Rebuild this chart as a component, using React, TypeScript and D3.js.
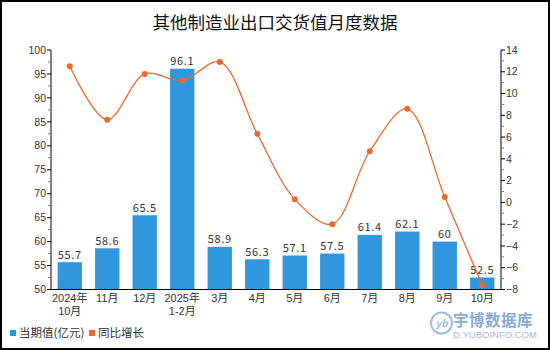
import React from "react";
import * as d3 from "d3";

const categories = ["2024年\n10月", "11月", "12月", "2025年\n1-2月", "3月", "4月", "5月", "6月", "7月", "8月", "9月", "10月"];
const values = [55.7, 58.6, 65.5, 96.1, 58.9, 56.3, 57.1, 57.5, 61.4, 62.1, 60, 52.5];
const growth = [12.5, 7.6, 11.8, 11.2, 12.9, 6.3, 0.3, -2.0, 4.7, 8.6, 0.5, -7.6];
const leftTicks = [50, 55, 60, 65, 70, 75, 80, 85, 90, 95, 100];
const rightTicks = [-8, -6, -4, -2, 0, 2, 4, 6, 8, 10, 12, 14];

const W = 550, H = 350;
const M = { left: 51, right: 501, top: 50, bottom: 289.5 };
const BAR = "#3097DF";
const LINE = "#EA6A2E";
const MINOR = "#E05050";
const FONT = "'Noto Sans CJK SC', 'Noto Sans', sans-serif";
const LAB = "'Liberation Sans', 'Noto Sans CJK SC', sans-serif";

export default function App() {
  const x = d3.scaleBand<string>().domain(categories).range([M.left, M.right]).paddingInner(0.35).paddingOuter(0.175);
  const yL = d3.scaleLinear().domain([50, 100]).range([M.bottom, M.top]);
  const yR = d3.scaleLinear().domain([-8, 14]).range([M.bottom, M.top]);
  const cx = (c: string) => (x(c) ?? 0) + x.bandwidth() / 2;

  const line = d3.line<number>()
    .x((_, i) => cx(categories[i]))
    .y((d) => yR(d))
    .curve(d3.curveCatmullRom.alpha(0.5));

  const leftMinor = leftTicks.slice(0, -1).map((t) => t + 2.5);
  const rightMinor = rightTicks.slice(0, -1).map((t) => t + 1);

  return (
    <svg width={W} height={H} style={{ position: "absolute", left: 0, top: 0, display: "block", background: "#fff" }} fontFamily={FONT}>
      <rect x={1} y={1} width={W - 2} height={H - 2} fill="#fff" stroke="#000" strokeWidth={2} />
      <text x={W / 2} y={29} textAnchor="middle" fontSize={17.5} fill="#111">其他制造业出口交货值月度数据</text>

      {/* bars */}
      {values.map((v, i) => (
        <g key={i}>
          <rect x={x(categories[i])} y={yL(v)} width={x.bandwidth()} height={yL(50) - yL(v)} fill={BAR} />
          <text x={cx(categories[i])} y={yL(v) - 3.5} textAnchor="middle" fontSize={11} fill="#333" letterSpacing={0.6}>{String(v)}</text>
        </g>
      ))}

      {/* line */}
      <path d={line(growth) ?? ""} fill="none" stroke={LINE} strokeWidth={1.3} />
      {growth.map((g, i) => (
        <circle key={i} cx={cx(categories[i])} cy={yR(g)} r={3} fill={LINE} />
      ))}

      {/* left axis */}
      <line x1={M.left} x2={M.left} y1={M.top} y2={M.bottom} stroke="#000" />
      {leftTicks.map((t) => (
        <g key={t}>
          <line x1={M.left - 4} x2={M.left} y1={yL(t)} y2={yL(t)} stroke="#000" />
          <text x={M.left - 5} y={yL(t)} dy="0.35em" textAnchor="end" fontSize={10.5} fill="#333" fontFamily="'Liberation Sans', Arial, sans-serif">{t}</text>
        </g>
      ))}
      {leftMinor.map((t) => (
        <line key={t} x1={M.left - 3} x2={M.left} y1={yL(t)} y2={yL(t)} stroke={MINOR} />
      ))}

      {/* right axis */}
      <line x1={M.right} x2={M.right} y1={M.top} y2={M.bottom} stroke="#000" />
      {rightTicks.map((t) => (
        <g key={t}>
          <line x1={M.right} x2={M.right + 4} y1={yR(t)} y2={yR(t)} stroke="#000" />
          <text x={M.right + 5} y={yR(t)} dy="0.35em" textAnchor="start" fontSize={10.5} fill="#333" fontFamily="'Liberation Sans', Arial, sans-serif">{t < 0 ? "\u2212" + Math.abs(t) : t}</text>
        </g>
      ))}
      {rightMinor.map((t) => (
        <line key={t} x1={M.right} x2={M.right + 3} y1={yR(t)} y2={yR(t)} stroke={MINOR} />
      ))}

      {/* bottom axis */}
      <line x1={M.left} x2={M.right} y1={M.bottom} y2={M.bottom} stroke="#000" />
      {categories.map((c) =>
        c.split("\n").map((s, j) => (
          <text key={c + j} x={cx(c)} y={M.bottom + 12 + j * 13} textAnchor="middle" fontSize={11} fill="#333" fontFamily={LAB}>{s}</text>
        ))
      )}

      {/* legend */}
      <rect x={10} y={330} width={6} height={6} fill={BAR} />
      <text x={19} y={333} dy="0.35em" fontSize={11.5} fill="#333">当期值(亿元)</text>
      <rect x={89} y={330} width={6} height={6} fill={LINE} />
      <text x={98} y={333} dy="0.35em" fontSize={11.5} fill="#333">同比增长</text>

      {/* watermark */}
      <g opacity={0.75}>
        <circle cx={441.5} cy={323} r={10.5} fill="none" stroke="#7FA6D6" strokeWidth={2} />
        <text x={441.5} y={327} textAnchor="middle" fontSize={10} fontStyle="italic" fill="#7FA6D6" fontWeight="bold">yb</text>
        <text x={453} y={326} fontSize={15.5} fill="#5F8FCB" fontWeight="bold" letterSpacing={0.5}>宇博数据库</text>
        <text x={453} y={337.5} fontSize={9.5} fill="#7FA6D6" fontFamily="'Liberation Sans', Arial, sans-serif">D.YUBOINFO.COM</text>
      </g>
    </svg>
  );
}
